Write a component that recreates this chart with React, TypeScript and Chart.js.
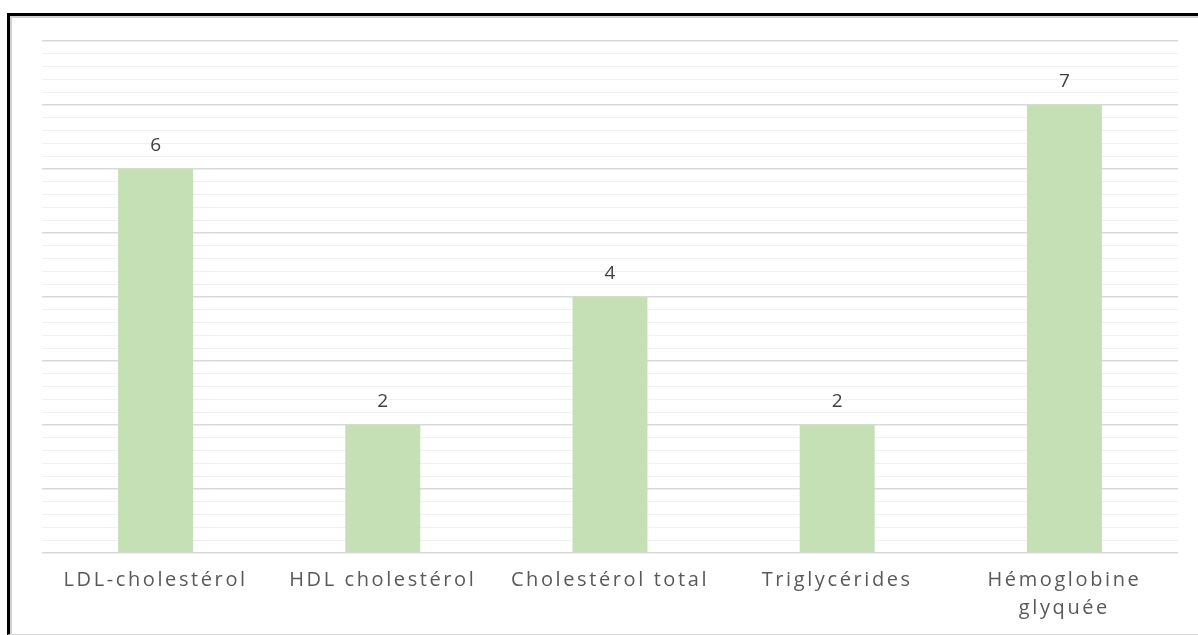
import React, { useEffect, useRef } from "react";
import { Chart, registerables } from "chart.js";

Chart.register(...registerables);

const categories: (string | string[])[] = [
  "LDL-cholestérol",
  "HDL cholestérol",
  "Cholestérol total",
  "Triglycérides",
  ["Hémoglobine", "glyquée"],
];
const values: number[] = [6, 2, 4, 2, 7];
const yMin = 0;
const yMax = 8;
const yStep = 0.2;

const spacingPlugin = {
  id: "spacing",
  beforeDraw(chart: any) {
    (chart.ctx as any).letterSpacing = "2.6px";
  },
  afterDraw(chart: any) {
    (chart.ctx as any).letterSpacing = "0px";
  },
};

const labelPlugin = {
  id: "valueLabels",
  afterDatasetsDraw(chart: any) {
    const ctx = chart.ctx;
    const meta = chart.getDatasetMeta(0);
    ctx.save();
    ctx.letterSpacing = "0px";
    ctx.font = "19px 'Open Sans'";
    ctx.fillStyle = "#404040";
    ctx.textAlign = "center";
    ctx.textBaseline = "middle";
    meta.data.forEach((bar: any, i: number) => {
      ctx.fillText(String(values[i]), bar.x, bar.y - 23);
    });
    ctx.restore();
  },
};

export default function App() {
  const ref = useRef<HTMLCanvasElement | null>(null);
  useEffect(() => {
    if (!ref.current) return;
    const chart = new Chart(ref.current, {
      type: "bar",
      data: {
        labels: categories,
        datasets: [
          {
            data: values,
            backgroundColor: "#c5e0b4",
            borderWidth: 0,
            categoryPercentage: 1,
            barPercentage: 0.33,
          },
        ],
      },
      options: {
        animation: false,
        responsive: false,
        maintainAspectRatio: false,
        layout: { padding: { left: 42, right: 20, top: 41, bottom: 0 } },
        plugins: {
          legend: { display: false },
          tooltip: { enabled: false },
        },
        scales: {
          x: {
            grid: { display: false, drawTicks: false },
            border: { display: false },
            ticks: {
              color: "#595959",
              font: { family: "'Open Sans'", size: 20, lineHeight: 1.4 },
              padding: 13,
              maxRotation: 0,
              autoSkip: false,
            },
            afterFit(scale: any) {
              scale.height = 82;
            },
          },
          y: {
            min: yMin,
            max: yMax,
            border: { display: false },
            grid: {
              drawTicks: false,
              lineWidth: (c: any) => {
                const v = c.tick ? c.tick.value : 0;
                return Math.abs(v - Math.round(v)) < 1e-6 ? 1.5 : 1;
              },
              color: (c: any) => {
                const v = c.tick ? c.tick.value : 0;
                return Math.abs(v - Math.round(v)) < 1e-6 ? "#d9d9d9" : "#f0f0f0";
              },
            },
            ticks: { display: false, stepSize: yStep, maxTicksLimit: 100 },
            afterFit(scale: any) {
              scale.width = 0;
            },
          },
        },
      },
      plugins: [spacingPlugin, labelPlugin],
    });
    return () => chart.destroy();
  }, []);

  return (
    <div
      style={{
        position: "fixed",
        left: 0,
        top: 0,
        width: 1198,
        height: 635,
        background: "#ffffff",
        overflow: "hidden",
      }}
    >
      <div
        style={{
          position: "absolute",
          left: 7,
          top: 13,
          width: 1300,
          height: 618,
          borderTop: "3px solid #000",
          borderLeft: "3px solid #000",
          borderBottom: "1px solid #d9d9d9",
          boxShadow: "inset 2px 2px 0 #d0d0d0",
        }}
      />
      <canvas
        ref={ref}
        width={1198}
        height={635}
        style={{ position: "absolute", left: 0, top: 0, width: 1198, height: 635 }}
      />
    </div>
  );
}
